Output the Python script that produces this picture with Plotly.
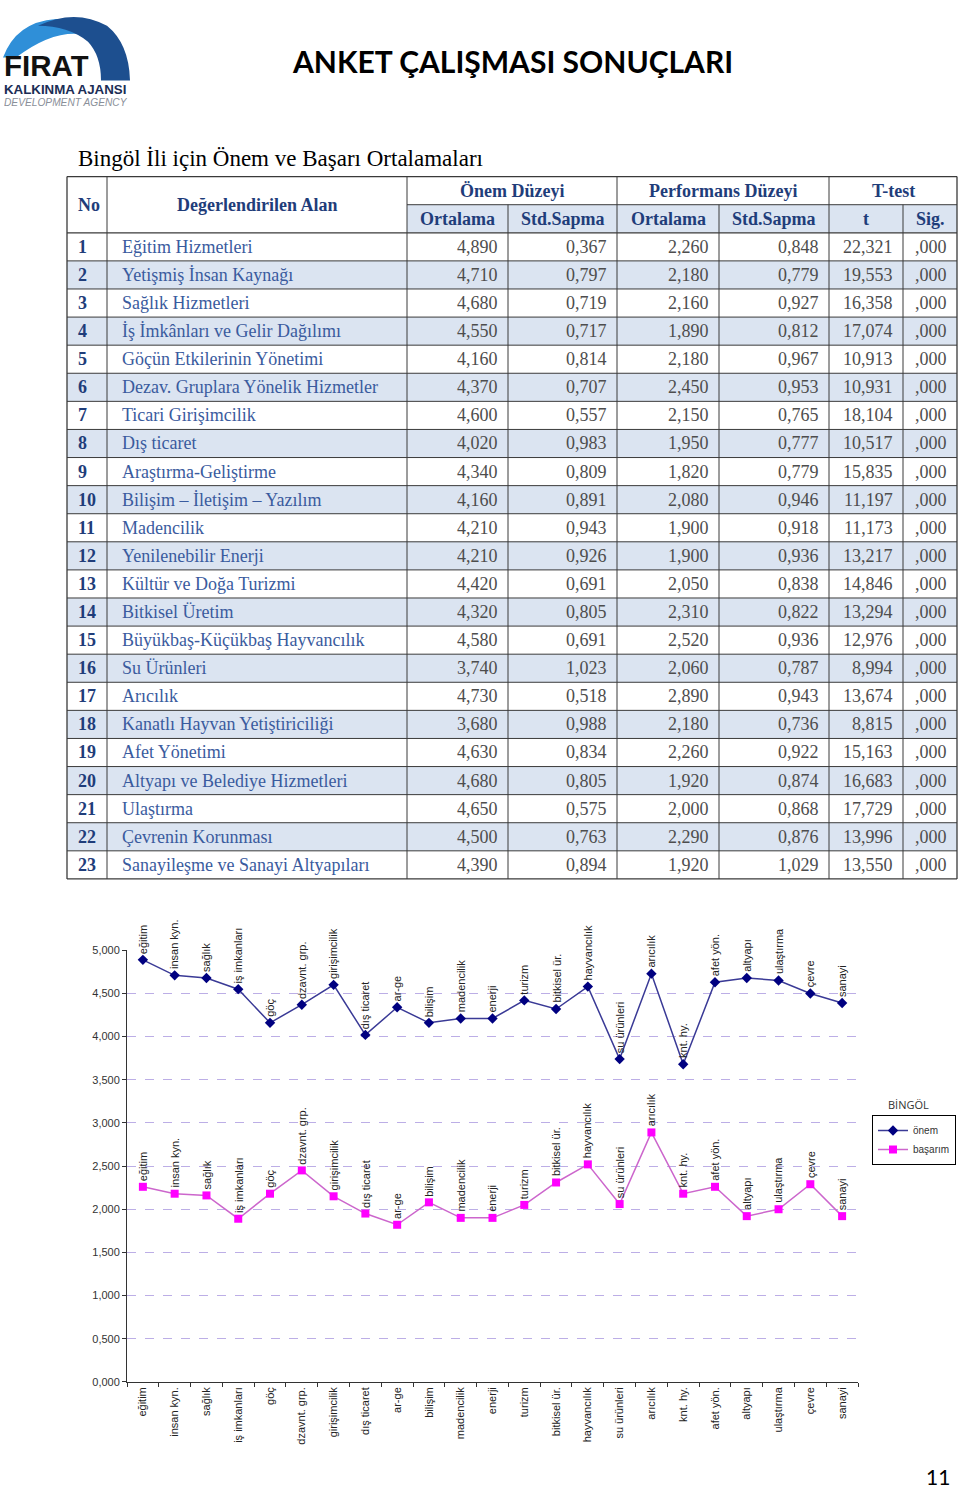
import plotly.graph_objects as go

W, H = 960, 1491
OFF = 0  # body margin is removed in the page, so figure px == page px


def fx(p):
    return (p - OFF) / W


def fy(p):
    return 1 - (p - OFF) / H


# ---- data -------------------------------------------------------------
no = list(range(1, 24))
alan = [
    "Eğitim Hizmetleri", "Yetişmiş İnsan Kaynağı", "Sağlık Hizmetleri",
    "İş İmkânları ve Gelir Dağılımı", "Göçün Etkilerinin Yönetimi",
    "Dezav. Gruplara Yönelik Hizmetler", "Ticari Girişimcilik", "Dış ticaret",
    "Araştırma-Geliştirme", "Bilişim – İletişim – Yazılım", "Madencilik",
    "Yenilenebilir Enerji", "Kültür ve Doğa Turizmi", "Bitkisel Üretim",
    "Büyükbaş-Küçükbaş Hayvancılık", "Su Ürünleri", "Arıcılık",
    "Kanatlı Hayvan Yetiştiriciliği", "Afet Yönetimi",
    "Altyapı ve Belediye Hizmetleri", "Ulaştırma", "Çevrenin Korunması",
    "Sanayileşme ve Sanayi Altyapıları",
]
onem_ort = [4.890, 4.710, 4.680, 4.550, 4.160, 4.370, 4.600, 4.020, 4.340, 4.160, 4.210, 4.210,
            4.420, 4.320, 4.580, 3.740, 4.730, 3.680, 4.630, 4.680, 4.650, 4.500, 4.390]
onem_sd = [0.367, 0.797, 0.719, 0.717, 0.814, 0.707, 0.557, 0.983, 0.809, 0.891, 0.943, 0.926,
           0.691, 0.805, 0.691, 1.023, 0.518, 0.988, 0.834, 0.805, 0.575, 0.763, 0.894]
perf_ort = [2.260, 2.180, 2.160, 1.890, 2.180, 2.450, 2.150, 1.950, 1.820, 2.080, 1.900, 1.900,
            2.050, 2.310, 2.520, 2.060, 2.890, 2.180, 2.260, 1.920, 2.000, 2.290, 1.920]
perf_sd = [0.848, 0.779, 0.927, 0.812, 0.967, 0.953, 0.765, 0.777, 0.779, 0.946, 0.918, 0.936,
           0.838, 0.822, 0.936, 0.787, 0.943, 0.736, 0.922, 0.874, 0.868, 0.876, 1.029]
t_val = [22.321, 19.553, 16.358, 17.074, 10.913, 10.931, 18.104, 10.517, 15.835, 11.197, 11.173, 13.217,
         14.846, 13.294, 12.976, 8.994, 13.674, 8.815, 15.163, 16.683, 17.729, 13.996, 13.550]
sig = [0.000, 0.000, 0.000, 0.000, 0.000, 0.000, 0.000, 0.000, 0.000, 0.000, 0.000, 0.000,
       0.000, 0.000, 0.000, 0.000, 0.000, 0.000, 0.000, 0.000, 0.000, 0.000, 0.000]

kisa = ["eğitim", "insan kyn.", "sağlık", "iş imkanları", "göç", "dzavnt. grp.", "girişimcilik",
        "dış ticaret", "ar-ge", "bilişim", "madencilik", "enerji", "turizm", "bitkisel ür.",
        "hayvancılık", "su ürünleri", "arıcılık", "knt. hy.", "afet yön.", "altyapı",
        "ulaştırma", "çevre", "sanayi"]

header_top = ["Önem Düzeyi", "Performans Düzeyi", "T-test"]
header_sub = ["Ortalama", "Std.Sapma", "Ortalama", "Std.Sapma", "t", "Sig."]


def num(v):
    return f"{v:.3f}".replace(".", ",")


def sig_fmt(v):
    return f"{v:.3f}".lstrip("0").replace(".", ",")


# ---- styling ----------------------------------------------------------
SERIF = "Liberation Serif"
SANS = "Liberation Sans"
HEAD_C = "#1f3d7a"
ALAN_C = "#3a5b9e"
NUM_C = "#4d4d4d"
BAND = "#dbe4f1"
LINE_C = "#3a3a3a"

# column edges of the table (x2 units = px from the table's left edge)
edges = [0, 40, 340, 441, 550, 652, 762, 836, 890]
ROW_PX = 708 / 25  # 2 header rows + 23 body rows between y=172 and y=880

fig = go.Figure()

# ---- chart ------------------------------------------------------------
fig.add_trace(go.Scatter(
    x=kisa, y=onem_ort, name="önem", mode="lines+markers",
    line=dict(color="#3a3a96", width=1.5),
    marker=dict(symbol="diamond", size=8, color="#000080"),
))
fig.add_trace(go.Scatter(
    x=kisa, y=perf_ort, name="başarım", mode="lines+markers",
    line=dict(color="#cc66cc", width=1.5),
    marker=dict(symbol="square", size=8, color="#ff00ff"),
))
# empty traces so the helper subplots exist
fig.add_trace(go.Scatter(x=[], y=[], xaxis="x2", yaxis="y2", showlegend=False))
fig.add_trace(go.Scatter(x=[], y=[], xaxis="x3", yaxis="y3", showlegend=False))

annotations = []
for series in (onem_ort, perf_ort):
    for lbl, v in zip(kisa, series):
        annotations.append(dict(
            x=lbl, y=v, xref="x", yref="y", text=lbl, textangle=-90,
            showarrow=False, yanchor="bottom", xanchor="center", yshift=4,
            font=dict(family=SANS, size=11, color="#222222"),
        ))

# ---- table ------------------------------------------------------------
shapes = []
for i in range(23):
    if i % 2 == 1:
        shapes.append(dict(type="rect", xref="x2", yref="y2", x0=0, x1=890, y0=i, y1=i + 1,
                           fillcolor=BAND, line=dict(width=0), layer="below"))
shapes.append(dict(type="rect", xref="x2", yref="y2", x0=340, x1=890, y0=-1, y1=0,
                   fillcolor=BAND, line=dict(width=0), layer="below"))
shapes.append(dict(type="line", xref="x2", yref="y2", x0=0, x1=890, y0=-2, y1=-2,
                   line=dict(color=LINE_C, width=1.3)))
shapes.append(dict(type="line", xref="x2", yref="y2", x0=340, x1=890, y0=-1, y1=-1,
                   line=dict(color=LINE_C, width=1)))
for i in range(24):
    shapes.append(dict(type="line", xref="x2", yref="y2", x0=0, x1=890, y0=i, y1=i,
                       line=dict(color=LINE_C, width=1.3 if i in (0, 23) else 1)))
for k, e in enumerate(edges):
    top = -1 if e in (441, 652, 836) else -2
    shapes.append(dict(type="line", xref="x2", yref="y2", x0=e, x1=e, y0=top, y1=23,
                       line=dict(color=LINE_C, width=1.3 if k in (0, 8) else 1)))

hfont = dict(family=SERIF, size=18, color=HEAD_C)
annotations.append(dict(x=9, y=-1, xref="x2", yref="y2", text="<b>No</b>", showarrow=False,
                        xanchor="left", font=hfont))
annotations.append(dict(x=190, y=-1, xref="x2", yref="y2", text="<b>Değerlendirilen Alan</b>",
                        showarrow=False, font=hfont))
for k, txt in enumerate(header_top):
    x0, x1 = edges[2 + 2 * k], edges[4 + 2 * k]
    annotations.append(dict(x=(x0 + x1) / 2, y=-1.5, xref="x2", yref="y2", text=f"<b>{txt}</b>",
                            showarrow=False, font=hfont))
for k, txt in enumerate(header_sub):
    x0, x1 = edges[2 + k], edges[3 + k]
    annotations.append(dict(x=(x0 + x1) / 2, y=-0.5, xref="x2", yref="y2", text=f"<b>{txt}</b>",
                            showarrow=False, font=hfont))

cols = [onem_ort, onem_sd, perf_ort, perf_sd, t_val]
for i in range(23):
    yc = i + 0.5
    annotations.append(dict(x=9, y=yc, xref="x2", yref="y2", text=f"<b>{no[i]}</b>", showarrow=False,
                            xanchor="left", font=hfont))
    annotations.append(dict(x=53, y=yc, xref="x2", yref="y2", text=alan[i], showarrow=False,
                            xanchor="left", font=dict(family=SERIF, size=18, color=ALAN_C)))
    for k, col in enumerate(cols):
        annotations.append(dict(x=edges[3 + k] - 8, y=yc, xref="x2", yref="y2", text=num(col[i]),
                                showarrow=False, xanchor="right",
                                font=dict(family=SERIF, size=18, color=NUM_C)))
    annotations.append(dict(x=edges[8] - 8, y=yc, xref="x2", yref="y2", text=sig_fmt(sig[i]),
                            showarrow=False, xanchor="right",
                            font=dict(family=SERIF, size=18, color=NUM_C)))

# ---- page decorations (x3/y3 are page pixels) ---------------------------
shapes.append(dict(type="path", xref="x3", yref="y3",
                   path="M 3,52 Q 16,16 56,13 Q 82,13 96,32 Q 60,18 16,52 Z",
                   fillcolor="#2f8fd8", line=dict(width=0)))
shapes.append(dict(type="path", xref="x3", yref="y3",
                   path="M 38,20 Q 75,2 107,20 Q 129,38 130,75 L 101,75 Q 101,50 88,36 Q 68,20 38,20 Z",
                   fillcolor="#1d4f8f", line=dict(width=0)))
annotations += [
    dict(x=2, y=59, xref="x3", yref="y3", text="<b>FIRAT</b>", showarrow=False, xanchor="left",
         font=dict(family=SANS, size=29.5, color="#111111"), height=26),
    dict(x=2, y=84, xref="x3", yref="y3", text="<b>KALKINMA AJANSI</b>", showarrow=False,
         xanchor="left", font=dict(family=SANS, size=13.3, color="#1b2d55"), height=12),
    dict(x=2, y=97.5, xref="x3", yref="y3", text="<i>DEVELOPMENT AGENCY</i>", showarrow=False,
         xanchor="left", font=dict(family=SANS, size=10.2, color="#8a8f99"), height=11),
    dict(x=512, y=55, xref="x3", yref="y3", text="<b>ANKET ÇALIŞMASI SONUÇLARI</b>", showarrow=False,
         font=dict(family="Lato", size=30, color="#000000")),
    dict(x=76, y=154, xref="x3", yref="y3", text="Bingöl İli için Önem ve Başarı Ortalamaları",
         showarrow=False, xanchor="left", font=dict(family=SERIF, size=23, color="#000000")),
    dict(x=908, y=1107, xref="x3", yref="y3", text="BİNGÖL", showarrow=False,
         font=dict(family="Open Sans", size=11, color="#333333")),
    dict(x=938, y=1482, xref="x3", yref="y3", text="11", showarrow=False,
         font=dict(family="Lato", size=21, color="#000000"), height=18),
]

fig.update_layout(
    width=W, height=H,
    margin=dict(l=0, r=0, t=0, b=0),
    paper_bgcolor="white", plot_bgcolor="rgba(0,0,0,0)",
    separators=",.",
    showlegend=True,
    legend=dict(x=fx(872), y=fy(1118), xanchor="left", yanchor="top",
                bordercolor="#000000", borderwidth=1, bgcolor="white", itemwidth=30,
                font=dict(family=SANS, size=10, color="#333333")),
    xaxis=dict(domain=[fx(127), fx(858)], anchor="y", type="category", range=[-0.5, 22.5],
               showline=True, linecolor="#333333", linewidth=1, ticks="outside",
               tickson="boundaries", ticklen=4, tickcolor="#333333", tickangle=-90,
               showgrid=False, tickfont=dict(family=SANS, size=11, color="#222222")),
    yaxis=dict(domain=[fy(1387), fy(952)], anchor="x", range=[0, 5], dtick=0.5,
               tickformat=".3f", showline=True, linecolor="#333333", linewidth=1,
               ticks="outside", ticklen=4, tickcolor="#333333", zeroline=False,
               gridcolor="#bcaee6", griddash="dash", gridwidth=1,
               tickfont=dict(family=SANS, size=11, color="#333333")),
    # a few px of padding so the outer table borders are not clipped
    xaxis2=dict(domain=[fx(64), fx(960)], range=[-3, 893], anchor="y2", visible=False),
    yaxis2=dict(domain=[fy(880 + 3), fy(172 - 3)],
                range=[23 + 3 / ROW_PX, -2 - 3 / ROW_PX], anchor="x2", visible=False),
    xaxis3=dict(domain=[0, 1], range=[OFF, W + OFF], anchor="y3", visible=False),
    yaxis3=dict(domain=[0, 1], range=[H + OFF, OFF], anchor="x3", visible=False),
    shapes=shapes,
    annotations=annotations,
)

fig.write_html("out.html", config={"displayModeBar": False},
               post_script="document.body.style.margin = '0';")
